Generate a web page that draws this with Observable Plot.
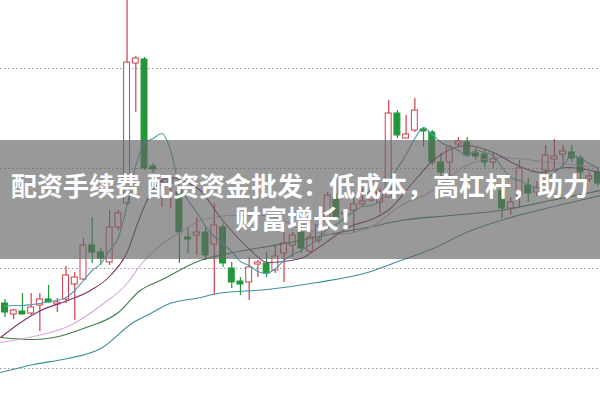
<!DOCTYPE html>
<html>
<head>
<meta charset="utf-8">
<script src="https://cdn.jsdelivr.net/npm/d3@7"></script>
<script src="https://cdn.jsdelivr.net/npm/@observablehq/plot@0.6"></script>
<style>
  html, body { margin: 0; padding: 0; background: #fff; }
  #wrap { position: relative; width: 600px; height: 401px; overflow: hidden; }
  #banner {
    position: absolute; left: 0; top: 140px; width: 600px; height: 119px;
    background: rgba(100,100,100,0.66);
  }
  .bline {
    position: absolute; left: 0; width: 600px; text-align: center;
    color: #fff; font-family: "Noto Sans CJK SC", "Noto Sans", sans-serif;
    font-weight: 700; font-size: 26px; line-height: 30px; height: 30px; white-space: nowrap;
  }
</style>
</head>
<body>
<div id="wrap"><div id="chart"></div><div id="banner"></div></div>
<script>
// Banner text
const bannerLines = ["配资手续费 配资资金批发：低成本，高杠杆，助力", "财富增长！"];

// Candles (index 0..68), prices
const opens  = [10.65,10.54,10.57,10.55,10.63,10.69,10.65,10.69,10.84,10.89,11.23,11.16,11.06,11.41,11.65,13.05,13.09,12.02,11.83,11.85,11.76,11.31,11.33,11.36,11.24,11.41,11.00,10.87,10.86,11.04,11.05,10.98,11.15,11.23,11.36,11.17,11.28,11.48,11.71,11.54,11.58,11.64,11.68,11.66,11.71,12.55,12.30,12.38,12.39,12.36,12.06,12.06,12.25,12.26,12.15,12.14,12.07,11.78,11.60,11.73,11.83,11.76,11.98,12.10,12.15,12.16,12.10,11.90,11.96];
const closes = [10.56,10.58,10.55,10.61,10.69,10.66,10.66,10.93,10.91,11.23,11.16,11.10,11.41,11.55,13.06,13.10,12.00,12.00,11.86,11.89,11.36,11.29,11.36,11.13,11.43,11.05,10.86,10.85,11.01,11.06,10.95,11.12,11.25,11.33,11.20,11.31,11.43,11.73,11.51,11.56,11.64,11.67,11.76,11.76,12.55,12.33,12.34,12.58,12.37,12.06,11.96,12.21,12.27,12.13,12.13,12.06,12.09,11.60,11.66,12.00,11.75,11.81,12.13,12.12,12.17,12.10,11.96,11.92,11.85];
const highs  = [10.69,10.59,10.75,10.75,10.75,10.83,10.70,11.02,10.96,11.30,11.51,11.20,11.58,11.58,13.75,13.12,13.11,12.05,11.88,11.91,11.78,11.41,11.51,11.41,11.65,11.45,11.06,10.91,11.11,11.08,11.16,11.23,11.36,11.36,11.41,11.35,11.50,11.76,11.75,11.58,11.71,11.80,11.80,11.80,12.68,12.58,12.53,12.70,12.41,12.38,12.15,12.23,12.31,12.31,12.20,12.18,12.16,11.81,11.71,12.08,11.90,11.87,12.23,12.29,12.23,12.23,12.13,11.96,12.00];
const lows   = [10.51,10.49,10.54,10.53,10.37,10.65,10.56,10.65,10.48,10.88,11.05,11.03,11.03,11.38,11.63,12.56,11.98,11.95,11.61,11.60,11.05,11.15,11.13,11.08,10.73,11.01,10.80,10.73,10.68,10.91,10.91,10.95,10.86,11.11,11.15,11.15,11.25,11.46,11.50,11.50,11.36,11.61,11.66,11.55,11.70,12.30,12.30,12.36,12.21,12.03,11.91,11.91,12.21,12.11,12.08,12.01,12.00,11.50,11.53,11.60,11.66,11.72,11.78,12.00,12.01,12.06,11.88,11.86,11.82];

// Moving-average lines: [candle index, price]
const ma5Prices = [10.62,10.63,10.63,10.64,10.65,10.67,10.68,10.71,10.78,10.88,10.98,11.05,11.18,11.31,11.63,12.03,12.25,12.30,12.35,12.18,11.83,11.68,11.56,11.42,11.32,11.25,11.17,11.07,11.03,10.97,10.95,11.00,11.08,11.14,11.18,11.24,11.30,11.40,11.44,11.51,11.57,11.62,11.63,11.68,11.86,12.00,12.14,12.30,12.41,12.34,12.26,12.22,12.18,12.13,12.18,12.16,12.13,12.01,11.91,11.88,11.84,11.80,11.88,11.96,12.03,12.13,12.10,12.05,12.00];
const ma10 = [[-0.5,10.31],[1.8,10.46],[4.1,10.58],[7.2,10.68],[9.8,10.78],[12.1,10.93],[14.1,11.18],[15.2,11.45],[16.7,11.75],[19.0,11.91],[20.9,11.86],[22.4,11.78],[24.7,11.51],[28.2,11.18],[30.1,11.06],[33.9,11.10],[35.8,11.20],[39.6,11.42],[42.3,11.50],[44.2,11.60],[46.5,11.83],[49.1,12.08],[53.0,12.23],[56.0,12.16],[58.8,12.03],[61.4,11.96],[64.5,12.01],[68.3,11.96]];
const ma20 = [[-0.5,10.26],[3.3,10.32],[7.2,10.42],[11.0,10.63],[14.1,10.86],[15.5,11.03],[17.8,11.23],[20.1,11.36],[22.4,11.48],[26.2,11.53],[30.1,11.53],[33.9,11.40],[37.7,11.34],[41.6,11.40],[45.4,11.63],[49.1,11.78],[52.9,12.03],[56.8,12.11],[62.6,12.06],[68.3,12.01]];
const ma30 = [[-0.5,10.31],[3.3,10.29],[5.6,10.31],[9.0,10.40],[13.0,10.56],[15.5,10.78],[17.8,10.88],[22.4,11.08],[26.2,11.16],[30.1,11.22],[33.9,11.28],[37.7,11.35],[41.6,11.41],[45.4,11.48],[51.1,11.53],[56.8,11.58],[62.6,11.68],[68.3,11.78]];
const ma60 = [[-0.5,9.96],[3.3,10.04],[7.2,10.10],[11.0,10.20],[14.7,10.46],[16.7,10.55],[18.6,10.64],[22.4,10.71],[24.4,10.75],[30.1,10.79],[35.8,10.86],[41.6,10.96],[45.4,11.08],[49.1,11.20],[52.9,11.36],[56.8,11.48],[60.6,11.57],[64.4,11.65],[68.3,11.73]];
const gridPrices = [10, 11, 12, 13];

const RED = "#cf3f4c", GREEN = "#23963a";
const candles = opens.map((o, i) => ({i, open: o, close: closes[i], high: highs[i], low: lows[i], up: closes[i] >= o}));
const toPts = arr => arr.map(([i, v]) => ({i, v}));
const ma5 = ma5Prices.map((v, i) => ({i, v}));

const lineSpecs = [
  {data: toPts(ma60), color: "#3b8e9e"},
  {data: toPts(ma30), color: "#3f7a48"},
  {data: toPts(ma20), color: "#d9a6dc"},
  {data: toPts(ma10), color: "#7d3466"},
  {data: ma5, color: "#4b9fae"}
];

const chart = Plot.plot({
  width: 600, height: 401,
  margin: 0,
  x: {domain: [-0.516, 68.29], axis: null},
  y: {domain: [9.67, 13.68], axis: null},
  style: {background: "#fff"},
  marks: [
    Plot.ruleY(gridPrices, {stroke: "#9a9a9a", strokeDasharray: "1.5,2.5", strokeWidth: 1.2}),
    Plot.ruleX(candles, {x: "i", y1: "low", y2: "high", stroke: d => d.up ? RED : GREEN, strokeWidth: 1.2, clip: true}),
    Plot.rect(candles, {
      x1: d => d.i - 0.34, x2: d => d.i + 0.34,
      y1: d => Math.min(d.open, d.close) - (Math.abs(d.open - d.close) < 0.02 ? 0.01 : 0),
      y2: d => Math.max(d.open, d.close),
      fill: d => d.up ? "#fff" : GREEN,
      stroke: d => d.up ? RED : GREEN, strokeWidth: 1
    }),
    ...lineSpecs.map(s => Plot.line(s.data, {x: "i", y: "v", stroke: s.color, strokeWidth: 1.1, curve: "monotone-x"}))
  ]
});
document.getElementById("chart").appendChild(chart);
const banner = document.getElementById("banner");
bannerLines.forEach((t, k) => {
  const d = document.createElement("div");
  d.className = "bline";
  d.style.top = (30 + k * 33) + "px";
  d.textContent = t;
  banner.appendChild(d);
});
</script>
</body>
</html>
